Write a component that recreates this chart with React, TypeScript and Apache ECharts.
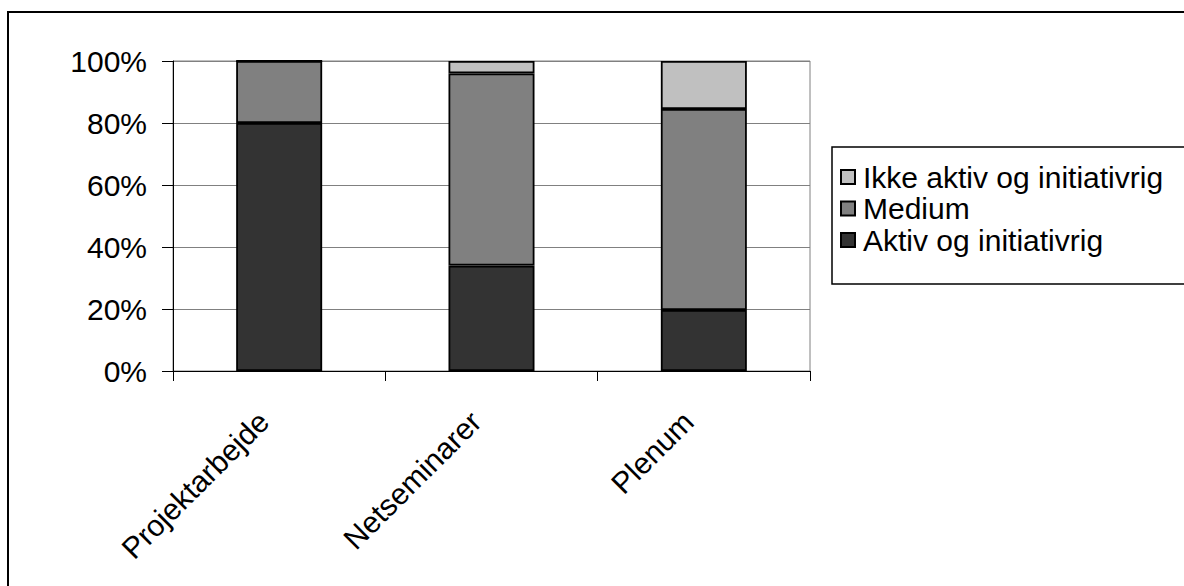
import React, { useEffect, useRef } from "react";
import * as echarts from "echarts";

const categories = ["Projektarbejde", "Netseminarer", "Plenum"];
const seriesNames = ["Aktiv og initiativrig", "Medium", "Ikke aktiv og initiativrig"];
const aktiv = [80, 34, 19.7];
const medium = [20, 62, 64.8];
const ikke = [0, 4, 15.5];
const colors = ["#333333", "#808080", "#C0C0C0"];
const yTicks = [0, 20, 40, 60, 80, 100];

const FONT = "'Liberation Sans', Arial, sans-serif";

export default function App() {
  const ref = useRef<HTMLDivElement>(null);
  useEffect(() => {
    if (!ref.current) return;
    const chart = echarts.init(ref.current, undefined, { renderer: "svg" });
    const values = [aktiv, medium, ikke];
    chart.setOption({
      animation: false,
      backgroundColor: "#ffffff",
      textStyle: { fontFamily: FONT },
      grid: {
        left: 173,
        top: 61,
        right: 1184 - 810,
        bottom: 586 - 371,
        show: true,
        borderColor: "#808080",
        borderWidth: 1,
        backgroundColor: "transparent",
      },
      legend: {
        orient: "vertical",
        left: 840,
        top: 162,
        padding: 0,
        itemGap: 1.5,
        itemWidth: 14,
        itemHeight: 14,
        icon: "rect",
        data: [seriesNames[2], seriesNames[1], seriesNames[0]],
        textStyle: {
          fontSize: 30,
          color: "#000",
          fontFamily: FONT,
          lineHeight: 30,
          padding: [0, 0, 0, 3],
        },
      },
      graphic: [
        {
          type: "rect",
          shape: { x: 8, y: 12, width: 1400, height: 800 },
          style: { fill: "transparent", stroke: "#000", lineWidth: 2 },
          silent: true,
          z: -1,
        },
        {
          type: "rect",
          shape: { x: 832, y: 147, width: 500, height: 137 },
          style: { fill: "transparent", stroke: "#000", lineWidth: 1.5 },
          silent: true,
        },
      ],
      xAxis: {
        type: "category",
        data: categories,
        axisLine: { show: true, lineStyle: { color: "#000", width: 1 } },
        axisTick: { show: true, length: 10, lineStyle: { color: "#000" } },
        axisLabel: {
          rotate: 45,
          fontSize: 30,
          color: "#000",
          fontFamily: FONT,
          margin: 30,
          padding: [0, 22, 0, 0],
          interval: 0,
        },
        splitLine: { show: false },
      },
      yAxis: {
        type: "value",
        min: yTicks[0],
        max: yTicks[yTicks.length - 1],
        interval: 20,
        axisLine: { show: true, lineStyle: { color: "#000", width: 1 } },
        axisTick: { show: true, length: 11, lineStyle: { color: "#000" } },
        axisLabel: {
          formatter: "{value}%",
          fontSize: 30,
          color: "#000",
          fontFamily: FONT,
          margin: 26,
        },
        splitLine: { show: true, lineStyle: { color: "#808080", width: 1 } },
      },
      series: seriesNames.map((name, i) => ({
        name,
        type: "bar",
        stack: "total",
        barWidth: 86,
        data: values[i],
        itemStyle: { color: colors[i], borderColor: "#000", borderWidth: 1.8 },
      })),
    });
    return () => chart.dispose();
  }, []);
  return (
    <div
      ref={ref}
      style={{ position: "absolute", left: 0, top: 0, width: 1184, height: 586, background: "#fff" }}
    />
  );
}
